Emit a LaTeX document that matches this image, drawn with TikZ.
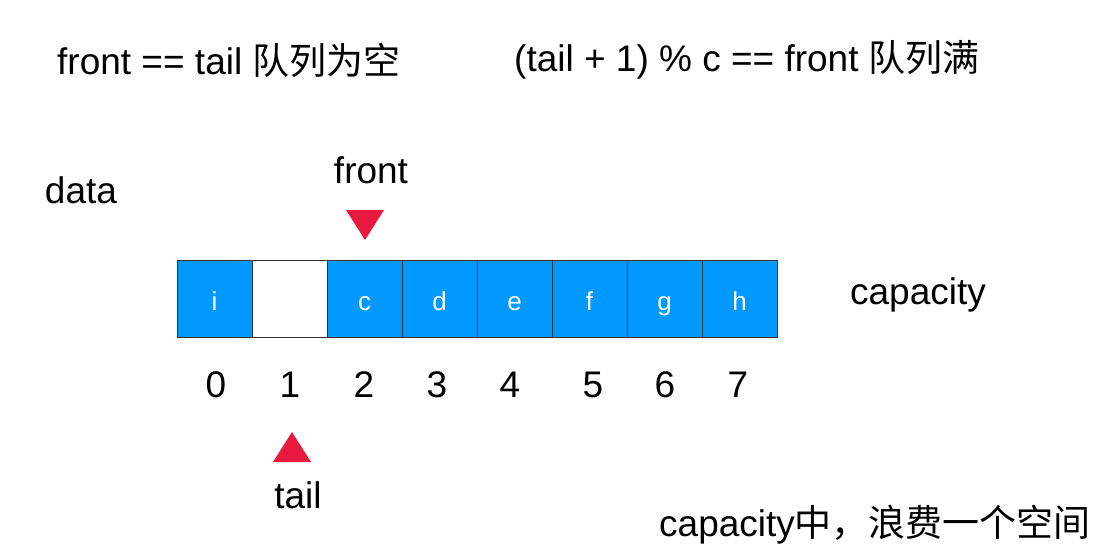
\documentclass[tikz,border=0pt]{standalone}
\usepackage{fontspec}
\setmainfont{Liberation Sans}
\newfontfamily\cjk{Noto Sans CJK SC}
\definecolor{cellblue}{RGB}{0,153,255}
\definecolor{ptrred}{RGB}{232,25,63}
\tikzset{
  cell/.style={draw=black!80, line width=1pt, minimum width=75pt, minimum height=77pt, inner sep=0pt, text height=23pt, text depth=0pt, fill=cellblue, text=white, font=\fontsize{26}{28}\selectfont},
  emptycell/.style={cell, fill=white},
  lbl/.style={inner sep=0pt, font=\fontsize{37}{40}\selectfont},
  idx/.style={inner sep=0pt, font=\fontsize{37}{40}\selectfont},
  ptr/.style={fill=ptrred},
}
\begin{document}
\begin{tikzpicture}[x=1pt,y=-1pt]
\useasboundingbox (0,0) rectangle (1103,551);
\node[lbl, anchor=west] (t1) at (57,60) {front == tail {\cjk 队列为空}};
\node[lbl, anchor=west] (t2) at (514,60) {(tail + 1) \% c == front {\cjk 队列满}};
\node[lbl] (data) at (81,190) {data};
\node[lbl] (cap) at (918,295) {capacity};
\node[lbl, anchor=west] (note) at (659,525) {capacity{\cjk 中，浪费一个空间}};
\node[cell] (c0) at (214.5,298.5) {i};
\node[emptycell] (c1) at (289.5,298.5) {};
\node[cell] (c2) at (364.5,298.5) {c};
\node[cell] (c3) at (439.5,298.5) {d};
\node[cell] (c4) at (514.5,298.5) {e};
\node[cell] (c5) at (589.5,298.5) {f};
\node[cell] (c6) at (664.5,298.5) {g};
\node[cell] (c7) at (739.5,298.5) {h};
\node[idx] (i0) at (216,385) {0};
\node[idx] (i1) at (290,385) {1};
\node[idx] (i2) at (364,385) {2};
\node[idx] (i3) at (437,385) {3};
\node[idx] (i4) at (510,385) {4};
\node[idx] (i5) at (593,385) {5};
\node[idx] (i6) at (665,385) {6};
\node[idx] (i7) at (738,385) {7};
\coordinate (fp) at (365,225);
\fill[ptr] ([shift={(-19,-15)}]fp) -- ([shift={(19,-15)}]fp) -- ([shift={(0,15)}]fp) -- cycle;
\node[lbl] (fl) at (371,170) {front};
\coordinate (tp) at (292,447);
\fill[ptr] ([shift={(-19,15)}]tp) -- ([shift={(19,15)}]tp) -- ([shift={(0,-15)}]tp) -- cycle;
\node[lbl] (tl) at (298,495) {tail};
\end{tikzpicture}
\end{document}
